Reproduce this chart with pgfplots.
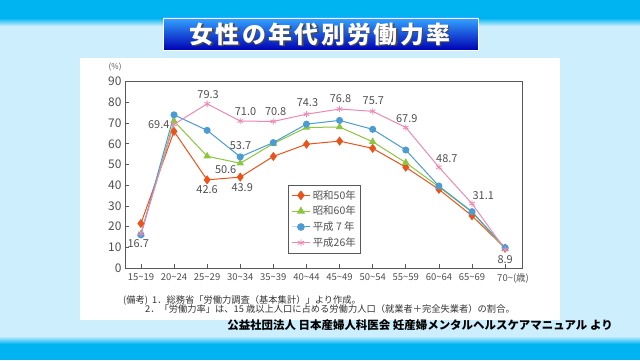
\documentclass[border=0pt]{standalone}
\usepackage{pgfplots}
\pgfplotsset{compat=1.18}
\usepackage{fontspec}
\setmainfont{Noto Sans CJK JP}
\newfontfamily\titlefont[LetterSpace=10]{Noto Sans CJK JP}
\definecolor{bright}{HTML}{00B4F2}
\definecolor{lightbg}{HTML}{CDEEFC}
\definecolor{cS}{HTML}{E9541C}
\definecolor{cG}{HTML}{8CC63F}
\definecolor{cB}{HTML}{4B9CD3}
\definecolor{cP}{HTML}{EC8AB3}
\definecolor{txt}{HTML}{505050}
\begin{document}
\begin{tikzpicture}[x=1bp,y=1bp]
% background
\fill[lightbg] (0,0) rectangle (640,360);
\fill[bright] (0,342) rectangle (640,360);
\shade[top color=bright, bottom color=lightbg] (0,342) rectangle (640,334);
\fill[bright] (0,0) rectangle (640,16);
\shade[top color=lightbg, bottom color=bright] (0,24) rectangle (640,16);
\fill[white] (80,40) rectangle (560,302);
% title banner
\shade[top color=blue!45!cyan!80!white, bottom color=blue!70!black, draw=white, line width=0.8bp] (163,310) rectangle (478,342);
\node[text=black!70, font=\titlefont\bfseries\fontsize{24}{24}\selectfont] at (321.5,324.5) {女性の年代別労働力率};
\node[text=white, font=\titlefont\bfseries\fontsize{24}{24}\selectfont] at (320,326) {女性の年代別労働力率};
% notes
\node[anchor=west, text=black!80, font=\fontsize{9.3}{10}\selectfont, inner sep=0] at (123,60) {(備考)\ \ 1．総務省「労働力調査（基本集計）」より作成。};
\node[anchor=west, text=black!80, font=\fontsize{9.3}{10}\selectfont, inner sep=0] at (145,51) {2．「労働力率」は、15 歳以上人口に占める労働力人口（就業者＋完全失業者）の割合。};
% footer
\node[text=black, font=\bfseries\fontsize{11.5}{12}\selectfont] at (420,35) {公益社団法人\ 日本産婦人科医会\ 妊産婦メンタルヘルスケアマニュアル\ より};
\begin{axis}[
  at={(125bp,92bp)}, anchor=south west,
  scale only axis, width=397bp, height=186.3bp,
  xmin=-0.48, xmax=11.51, ymin=0, ymax=90,
  xtick={0,...,11},
  xticklabels={15\textasciitilde19,20\textasciitilde24,25\textasciitilde29,30\textasciitilde34,35\textasciitilde39,40\textasciitilde44,45\textasciitilde49,50\textasciitilde54,55\textasciitilde59,60\textasciitilde64,65\textasciitilde69,70\textasciitilde\rlap{(歳)}},
  ytick={0,10,...,90},
  tick align=inside, tick pos=left,
  major tick length=4bp,
  axis line style={draw=black!65, line width=0.9bp},
  every tick/.style={draw=black!65, line width=0.7bp},
  yticklabel style={font=\fontsize{12}{12}\selectfont, text=txt},
  xticklabel style={font=\fontsize{9.5}{10}\selectfont, text=txt, yshift=-2bp},
  /pgf/number format/assume math mode=true,
  clip=false,
  legend style={at={(0.41,0.446)}, anchor=north west, draw=black!65, line width=0.6bp, font=\fontsize{10.5}{12}\selectfont, text=txt, row sep=1.5bp, inner sep=3bp},
  legend image post style={scale=1.1},
  legend cell align=left,
]
\addplot[cS, line width=1bp, mark=diamond*, mark size=3.8bp] coordinates {
(0,21.5)(1,66)(2,42.6)(3,43.9)(4,53.9)(5,59.8)(6,61.3)(7,57.8)(8,48.7)(9,38.0)(10,25.2)(11,9.6)};
\addlegendentry{昭和50年}
\addplot[cG, line width=1bp, mark=triangle*, mark size=3.4bp] coordinates {
(0,16.4)(1,71.0)(2,54.0)(3,50.6)(4,60.1)(5,67.9)(6,68.1)(7,61.0)(8,50.9)(9,39.2)(10,27.0)(11,9.3)};
\addlegendentry{昭和60年}
\addplot[cB, line width=1bp, mark=*, mark size=3bp] coordinates {
(0,16.0)(1,74.0)(2,66.5)(3,53.7)(4,60.6)(5,69.5)(6,71.3)(7,67.0)(8,57.0)(9,39.6)(10,27.2)(11,9.8)};
\addlegendentry{平成 7 年}
\addplot[cP, line width=1bp, mark=asterisk, mark size=3.2bp, mark options={line width=0.8bp}] coordinates {
(0,16.7)(1,69.4)(2,79.3)(3,71.0)(4,70.8)(5,74.3)(6,76.8)(7,75.7)(8,67.9)(9,48.7)(10,31.1)(11,8.9)};
\addlegendentry{平成26年}
\begin{scope}[every node/.style={text=txt, font=\fontsize{11}{11}\selectfont, inner sep=0}]
\node at (axis cs:-0.08,11.9) {16.7};
\node at (axis cs:0.54,69.5) {69.4};
\node at (axis cs:2.03,83.9) {79.3};
\node at (axis cs:3.16,75.5) {71.0};
\node at (axis cs:4.07,75.5) {70.8};
\node at (axis cs:5.03,79.9) {74.3};
\node at (axis cs:6.03,81.8) {76.8};
\node at (axis cs:7.02,80.8) {75.7};
\node at (axis cs:8.03,72.3) {67.9};
\node at (axis cs:9.24,53) {48.7};
\node at (axis cs:10.34,34.8) {31.1};
\node at (axis cs:11.0,4.2) {8.9};
\node at (axis cs:3.01,58.9) {53.7};
\node at (axis cs:2.56,47.6) {50.6};
\node at (axis cs:2.0,38) {42.6};
\node at (axis cs:3.06,39) {43.9};
\node[font=\fontsize{8}{8}\selectfont] at (rel axis cs:-0.025,1.079) {(\%)};
\end{scope}
\end{axis}
\end{tikzpicture}
\end{document}
